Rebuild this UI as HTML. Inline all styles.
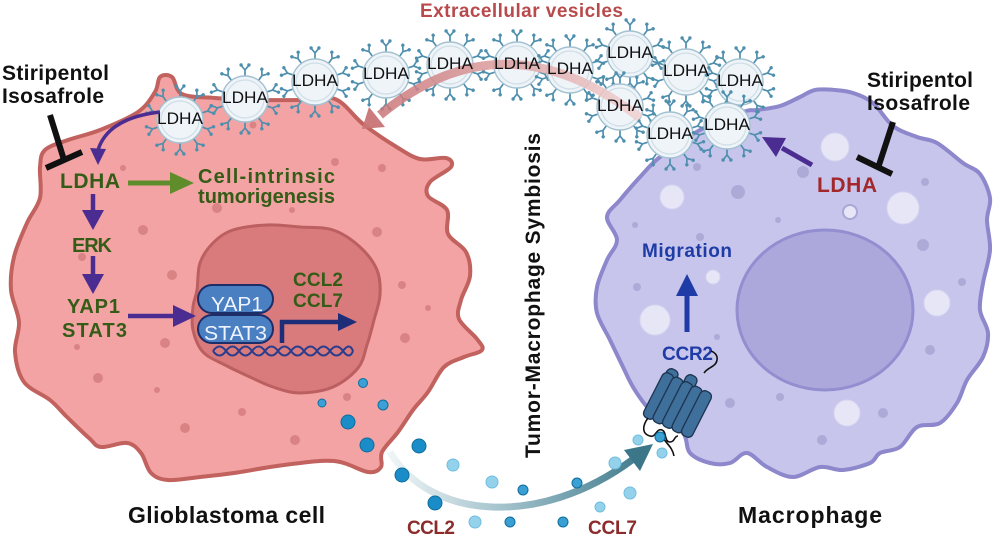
<!DOCTYPE html>
<html><head><meta charset="utf-8"><style>
html,body{margin:0;padding:0;background:#fff;}
svg{display:block;}
text{font-family:"Liberation Sans",Arial,sans-serif;}
.b{font-weight:bold;}
</style></head><body>
<svg width="998" height="536" viewBox="0 0 998 536" xmlns="http://www.w3.org/2000/svg" xmlns:xlink="http://www.w3.org/1999/xlink">
<defs>
<linearGradient id="tg" gradientUnits="userSpaceOnUse" x1="392" y1="0" x2="650" y2="0">
<stop offset="0" stop-color="#eef4f6"/><stop offset="0.45" stop-color="#9fc0ca"/><stop offset="1" stop-color="#3b7789"/></linearGradient>
<linearGradient id="pg" gradientUnits="userSpaceOnUse" x1="650" y1="0" x2="372" y2="0">
<stop offset="0" stop-color="#f3d6d6"/><stop offset="0.5" stop-color="#dca0a1"/><stop offset="1" stop-color="#c97375"/></linearGradient>
<g id="sp"><path d="M0,-23V-29M0,-29L-3.6,-33.4M0,-29L3.6,-33.4" stroke="#4f8fae" stroke-width="1.7" fill="none"/><circle cx="-3.9" cy="-34" r="1.7" fill="#4f8fae"/><circle cx="3.9" cy="-34" r="1.7" fill="#4f8fae"/></g>
<g id="ves">
<use xlink:href="#sp"/><use xlink:href="#sp" transform="rotate(36)"/><use xlink:href="#sp" transform="rotate(72)"/><use xlink:href="#sp" transform="rotate(108)"/><use xlink:href="#sp" transform="rotate(144)"/><use xlink:href="#sp" transform="rotate(180)"/><use xlink:href="#sp" transform="rotate(216)"/><use xlink:href="#sp" transform="rotate(252)"/><use xlink:href="#sp" transform="rotate(288)"/><use xlink:href="#sp" transform="rotate(324)"/>
<circle r="23" fill="#eef4f8" stroke="#a3c1d1" stroke-width="1.4"/><circle r="19" fill="none" stroke="#cfdee7" stroke-width="1.2"/>
</g>
</defs>

<!-- Glioblastoma cell -->
<path class="sm" d="M155,92 L160,77 L172,77 L182,94 L215,98 L260,100 L300,100 L335,99 L363,124 L395,146 L420,159 L446,158 L451,167 L430,182 L428,196 L447,210 L448,234 L466,252 L470,276 L461,300 L459,319 L477,339 L482,350 L464,357 L444,367 L428,392 L413,410 L398,432 L382,452 L381,467 L368,472 L334,461 L284,465 L234,473 L200,477 L168,480 L151,473 L141,453 L127,443 L101,447 L89,438 L67,417 L50,400 L24,382 L15,352 L19,322 L11,290 L14,257 L27,223 L40,198 L40,167 L45,150 L68,140 L100,130 L138,112 Z" fill="#f4a3a4" stroke="#c1625f" stroke-width="4" stroke-linejoin="round"/>
<g fill="#d98385">
<circle cx="123" cy="168" r="3"/><circle cx="253" cy="125" r="3.5"/><circle cx="335" cy="162" r="4"/><circle cx="217" cy="208" r="5"/><circle cx="292" cy="210" r="3"/><circle cx="143" cy="230" r="5"/><circle cx="82" cy="257" r="4"/><circle cx="172" cy="275" r="5"/><circle cx="377" cy="232" r="5"/><circle cx="402" cy="285" r="4"/><circle cx="405" cy="338" r="5"/><circle cx="165" cy="343" r="5"/><circle cx="77" cy="347" r="3"/><circle cx="98" cy="378" r="5"/><circle cx="157" cy="390" r="3"/><circle cx="185" cy="428" r="5"/><circle cx="242" cy="412" r="4"/><circle cx="295" cy="440" r="5"/><circle cx="347" cy="397" r="4"/><circle cx="382" cy="168" r="4"/><circle cx="428" cy="308" r="3"/>
</g>
<!-- nucleus -->
<path class="sm" d="M197,290 L200,263 L213,243 L233,230 L267,225 L300,227 L333,230 L360,247 L377,270 L380,295 L374,320 L367,345 L358,368 L333,387 L300,393 L273,387 L250,377 L225,365 L203,352 L193,330 L193,307 Z" fill="#d97b7c" stroke="#bb5f60" stroke-width="3" stroke-linejoin="round"/>

<!-- Macrophage -->
<path class="sm" d="M660,157 L700,130 L743,112 L757,110 L780,106 L800,97 L815,90 L835,90 L853,93 L873,103 L893,126 L917,137 L937,143 L963,163 L980,174 L990,198 L987,220 L990,250 L983,283 L980,310 L988,333 L983,357 L967,380 L957,403 L940,423 L917,427 L900,447 L880,453 L870,463 L843,470 L820,467 L793,477 L767,467 L747,453 L730,463 L710,463 L690,453 L683,433 L660,420 L647,407 L633,387 L623,367 L610,340 L597,313 L597,287 L607,260 L617,240 L607,217 L620,200 L640,177 Z" fill="#c7c5ec" stroke="#8d87cc" stroke-width="4" stroke-linejoin="round"/>
<ellipse cx="825" cy="310" rx="88" ry="80" fill="#aca8dc" stroke="#928ecf" stroke-width="3"/>
<g fill="#e6e6f7" stroke="#d6d5f0" stroke-width="1">
<circle cx="835" cy="147" r="14"/><circle cx="672" cy="197" r="12"/><circle cx="903" cy="208" r="16"/><circle cx="655" cy="320" r="15"/><circle cx="713" cy="277" r="7"/><circle cx="937" cy="303" r="13"/><circle cx="847" cy="413" r="13"/>
</g>
<circle cx="850" cy="212" r="7" fill="#e6e6f7" stroke="#aaa7d6" stroke-width="2"/>
<g fill="#adaad7">
<circle cx="738" cy="192" r="7"/><circle cx="697" cy="167" r="4"/><circle cx="803" cy="172" r="6"/><circle cx="925" cy="182" r="4"/><circle cx="635" cy="225" r="3"/><circle cx="700" cy="237" r="4"/><circle cx="923" cy="245" r="6"/><circle cx="778" cy="220" r="3"/><circle cx="962" cy="282" r="4"/><circle cx="930" cy="350" r="5"/><circle cx="883" cy="413" r="5"/><circle cx="730" cy="403" r="5"/><circle cx="780" cy="397" r="4"/><circle cx="822" cy="440" r="5"/><circle cx="637" cy="287" r="4"/><circle cx="717" cy="337" r="3"/>
</g>

<!-- Vesicles -->
<use xlink:href="#ves" x="180" y="120"/>
<use xlink:href="#ves" x="245" y="99"/>
<use xlink:href="#ves" x="315" y="82"/>
<use xlink:href="#ves" x="386" y="75"/>
<use xlink:href="#ves" x="450" y="65"/>
<use xlink:href="#ves" x="517" y="65"/>
<use xlink:href="#ves" x="570" y="70"/>
<use xlink:href="#ves" x="630" y="54"/>
<use xlink:href="#ves" x="686" y="72"/>
<use xlink:href="#ves" x="740" y="82"/>
<use xlink:href="#ves" x="620" y="107"/>
<use xlink:href="#ves" x="670" y="135"/>
<use xlink:href="#ves" x="727" y="126"/>

<!-- big pink arrow -->
<path d="M640,118 Q505,12 380,115" fill="none" stroke="url(#pg)" stroke-width="9" opacity="0.85"/>
<polygon points="385,127 369,107 362,129" fill="#c97476" opacity="0.95"/>

<g font-size="17" fill="#111" text-anchor="middle">
<text x="180" y="124" textLength="46" lengthAdjust="spacingAndGlyphs">LDHA</text>
<text x="245" y="103" textLength="46" lengthAdjust="spacingAndGlyphs">LDHA</text>
<text x="315" y="86" textLength="46" lengthAdjust="spacingAndGlyphs">LDHA</text>
<text x="386" y="79" textLength="46" lengthAdjust="spacingAndGlyphs">LDHA</text>
<text x="450" y="69" textLength="46" lengthAdjust="spacingAndGlyphs">LDHA</text>
<text x="517" y="69" textLength="46" lengthAdjust="spacingAndGlyphs">LDHA</text>
<text x="570" y="74" textLength="46" lengthAdjust="spacingAndGlyphs">LDHA</text>
<text x="630" y="58" textLength="46" lengthAdjust="spacingAndGlyphs">LDHA</text>
<text x="686" y="76" textLength="46" lengthAdjust="spacingAndGlyphs">LDHA</text>
<text x="740" y="86" textLength="46" lengthAdjust="spacingAndGlyphs">LDHA</text>
<text x="620" y="111" textLength="46" lengthAdjust="spacingAndGlyphs">LDHA</text>
<text x="670" y="139" textLength="46" lengthAdjust="spacingAndGlyphs">LDHA</text>
<text x="727" y="130" textLength="46" lengthAdjust="spacingAndGlyphs">LDHA</text>
</g>

<!-- titles -->
<text class="b" x="420" y="17" font-size="19" fill="#b94a4c" textLength="203">Extracellular vesicles</text>
<text class="b" x="2" y="80" font-size="21" fill="#111" textLength="107">Stiripentol</text>
<text class="b" x="2" y="103" font-size="21" fill="#111" textLength="102">Isosafrole</text>
<text class="b" x="867" y="87" font-size="21" fill="#111" textLength="106">Stiripentol</text>
<text class="b" x="867" y="110" font-size="21" fill="#111" textLength="103">Isosafrole</text>

<!-- inhibitors -->
<g stroke="#111" stroke-width="6" stroke-linecap="butt">
<line x1="50" y1="115" x2="64" y2="160"/><line x1="46" y1="168" x2="82" y2="152"/>
<line x1="893" y1="122" x2="879" y2="165"/><line x1="857" y1="157" x2="892" y2="174"/>
</g>

<!-- left pathway -->
<path d="M160,112 Q108,118 98,150" fill="none" stroke="#4b2d91" stroke-width="3.5"/>
<polygon points="90,148 106,149 98,165" fill="#4b2d91"/>
<text class="b" x="60" y="188" font-size="21" fill="#345c17" textLength="60">LDHA</text>
<line x1="128" y1="183" x2="172" y2="183" stroke="#5f8d2c" stroke-width="5"/>
<polygon points="170,172 194,183 170,194" fill="#5f8d2c"/>
<text class="b" x="198" y="183" font-size="20" fill="#345c17" textLength="137">Cell-intrinsic</text>
<text class="b" x="198" y="203" font-size="20" fill="#345c17" textLength="137">tumorigenesis</text>
<line x1="93" y1="194" x2="93" y2="212" stroke="#4b2d91" stroke-width="4.5"/>
<polygon points="82,210 104,210 93,230" fill="#4b2d91"/>
<text class="b" x="72" y="252" font-size="20" fill="#345c17" textLength="40">ERK</text>
<line x1="93" y1="256" x2="93" y2="276" stroke="#4b2d91" stroke-width="4.5"/>
<polygon points="82,274 104,274 93,294" fill="#4b2d91"/>
<text class="b" x="67" y="313" font-size="20" fill="#345c17" textLength="53">YAP1</text>
<text class="b" x="62" y="337" font-size="20" fill="#345c17" textLength="65">STAT3</text>
<line x1="128" y1="316" x2="175" y2="316" stroke="#4b2d91" stroke-width="4.5"/>
<polygon points="173,305 196,316 173,327" fill="#4b2d91"/>

<!-- nucleus contents -->
<rect x="198" y="285" width="75" height="28" rx="14" fill="#4a7fc2" stroke="#1c2d68" stroke-width="2"/>
<rect x="198" y="315" width="75" height="28" rx="14" fill="#4a7fc2" stroke="#1c2d68" stroke-width="2"/>
<text x="211" y="311" font-size="20" fill="#eef3ff" textLength="52" lengthAdjust="spacingAndGlyphs">YAP1</text>
<text x="204" y="340" font-size="20" fill="#eef3ff" textLength="63" lengthAdjust="spacingAndGlyphs">STAT3</text>
<path d="M213,351 q6.5,-9 13,0 t13,0 t13,0 t13,0 t13,0 t13,0 t13,0 t13,0 t13,0 t13,0 t10,0" fill="none" stroke="#2a3c8c" stroke-width="2"/>
<path d="M213,351 q6.5,9 13,0 t13,0 t13,0 t13,0 t13,0 t13,0 t13,0 t13,0 t13,0 t13,0 t10,0" fill="none" stroke="#2a3c8c" stroke-width="2"/>
<path d="M282,343 V322 H340" fill="none" stroke="#1d2d78" stroke-width="4.5"/>
<polygon points="338,313 357,322 338,331" fill="#1d2d78"/>
<text class="b" x="293" y="286" font-size="19" fill="#345c17" textLength="50">CCL2</text>
<text class="b" x="293" y="307" font-size="19" fill="#345c17" textLength="50">CCL7</text>

<!-- right cell labels -->
<text class="b" x="817" y="192" font-size="21" fill="#a3282b" textLength="60">LDHA</text>
<line x1="812" y1="165" x2="782" y2="148" stroke="#4b2d91" stroke-width="5"/>
<polygon points="786,138 776,157 762,137" fill="#4b2d91"/>
<text class="b" x="642" y="257" font-size="19" fill="#1f3ca6" textLength="90">Migration</text>
<line x1="687" y1="332" x2="687" y2="292" stroke="#1f3ca6" stroke-width="5"/>
<polygon points="676,296 698,296 687,274" fill="#1f3ca6"/>
<text class="b" x="662" y="360" font-size="19" fill="#1f3ca6" textLength="51">CCR2</text>

<!-- receptor -->
<path d="M704,373 c4,-6 12,-6 13,-13 c1,-5 -3,-8 -6,-9" fill="none" stroke="#111" stroke-width="1.6"/>
<g fill="#3f6f9b" stroke="#1d3450" stroke-width="1.3">
<rect x="-6" y="-25" width="12" height="50" rx="5" transform="translate(663,392) rotate(27)"/>
<rect x="-6" y="-25" width="12" height="50" rx="5" transform="translate(682,398) rotate(27)"/>
<rect x="-6" y="-25" width="12" height="50" rx="5" transform="translate(658.5,396) rotate(27)"/>
<rect x="-6" y="-25" width="12" height="50" rx="5" transform="translate(668,400.5) rotate(27)"/>
<rect x="-6" y="-25" width="12" height="50" rx="5" transform="translate(677.5,405) rotate(27)"/>
<rect x="-6" y="-25" width="12" height="50" rx="5" transform="translate(687,409.5) rotate(27)"/>
<rect x="-6" y="-25" width="12" height="50" rx="5" transform="translate(696.5,414) rotate(27)"/>
</g>
<path d="M648,418 c-6,8 -6,16 2,18 c6,2 6,-8 12,-6 c5,2 2,12 8,12 c5,0 4,-6 8,-6 M662,436 c4,8 10,10 12,20" fill="none" stroke="#111" stroke-width="1.6"/>

<!-- chemokine arrow -->
<path d="M390,452 C430,520 540,528 632,460" fill="none" stroke="url(#tg)" stroke-width="7"/>
<polygon points="624,450 640,471 653,444" fill="#3b7789"/>

<!-- dots -->
<g fill="#1a8cc8" stroke="#0f6d9e" stroke-width="1">
<circle cx="363" cy="383" r="4.5" fill="#3aa0d6"/><circle cx="322" cy="403" r="4" fill="#3aa0d6"/><circle cx="383" cy="405" r="5" fill="#3aa0d6"/><circle cx="348" cy="422" r="7"/><circle cx="367" cy="445" r="7"/><circle cx="419" cy="446" r="7"/><circle cx="402" cy="475" r="7"/><circle cx="435" cy="503" r="7"/>
<circle cx="523" cy="490" r="5" fill="#3a9fd2"/><circle cx="510" cy="522" r="5" fill="#3a9fd2"/><circle cx="563" cy="522" r="5" fill="#3a9fd2"/><circle cx="577" cy="483" r="5" fill="#3a9fd2"/><circle cx="660" cy="437" r="5" fill="#3a9fd2"/>
</g>
<g fill="#94d2ec" stroke="#6fbddf" stroke-width="1">
<circle cx="453" cy="465" r="6"/><circle cx="492" cy="482" r="6"/><circle cx="475" cy="522" r="6"/><circle cx="615" cy="463" r="6"/><circle cx="630" cy="493" r="6"/><circle cx="600" cy="507" r="5"/><circle cx="638" cy="440" r="5"/><circle cx="662" cy="453" r="5"/>
</g>

<!-- bottom labels -->
<text class="b" x="407" y="534" font-size="19" fill="#8b2b2b" textLength="48">CCL2</text>
<text class="b" x="588" y="534" font-size="19" fill="#8b2b2b" textLength="49">CCL7</text>
<text class="b" x="128" y="523" font-size="23" fill="#111" textLength="197">Glioblastoma cell</text>
<text class="b" x="738" y="523" font-size="23" fill="#111" textLength="144">Macrophage</text>
<text class="b" transform="translate(540,458) rotate(-90)" font-size="21" fill="#111" textLength="325">Tumor-Macrophage Symbiosis</text>
</svg>
<script>
document.querySelectorAll('path.sm').forEach(function(p){
 var n=p.getAttribute('d').match(/-?\d+(\.\d+)?/g).map(Number);
 var pts=[];for(var i=0;i<n.length;i+=2)pts.push([n[i],n[i+1]]);
 var L=pts.length,d='M'+pts[0][0]+','+pts[0][1];
 for(var i=0;i<L;i++){var p0=pts[(i-1+L)%L],p1=pts[i],p2=pts[(i+1)%L],p3=pts[(i+2)%L];
  d+=' C'+(p1[0]+(p2[0]-p0[0])/6).toFixed(1)+','+(p1[1]+(p2[1]-p0[1])/6).toFixed(1)+' '+(p2[0]-(p3[0]-p1[0])/6).toFixed(1)+','+(p2[1]-(p3[1]-p1[1])/6).toFixed(1)+' '+p2[0]+','+p2[1];}
 p.setAttribute('d',d+'Z');
});
</script>
</body></html>
